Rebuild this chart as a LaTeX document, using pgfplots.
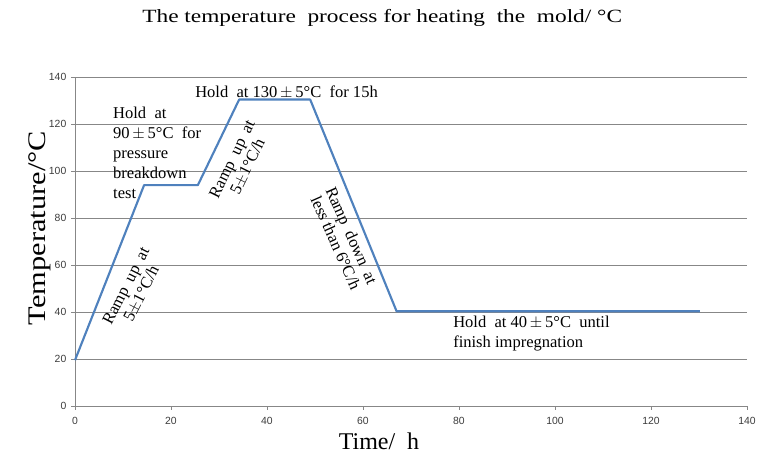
\documentclass[border=0pt]{standalone}
\usepackage{fontspec}
\setmainfont{Liberation Serif}
\newfontfamily\titlefont[FakeStretch=1.25]{Liberation Serif}
\newfontfamily\ylfont[FakeStretch=1.2]{Liberation Serif}
\newfontfamily\tickfont{Liberation Sans}
\usepackage{pgfplots}
\pgfplotsset{compat=1.18}
\definecolor{lineblue}{RGB}{79,129,189}
\definecolor{gridgray}{RGB}{135,135,135}
\definecolor{ticktext}{RGB}{60,60,60}
\begin{document}
\begin{tikzpicture}
\begin{axis}[
  at={(0,0)}, anchor=origin,
  scale only axis,
  width=504pt, height=246.75pt,
  xmin=0, xmax=140, ymin=0, ymax=140,
  xtick distance=20, ytick distance=20,
  axis lines*=left,
  axis line style={gridgray},
  ymajorgrids,
  grid style={gridgray, line width=0.6pt},
  tick style={gridgray},
  major tick length=3pt,
  tick align=outside,
  /pgf/number format/assume math mode=true,
  tick label style={font=\tickfont\fontsize{7.8}{9}\selectfont, text=ticktext},
  xticklabel style={yshift=-2pt},
  clip=false,
  xlabel={Time/\ \ h},
  ylabel={Temperature/\textdegree C},
  xlabel style={at={(axis description cs:0.4524,0)}, anchor=center, yshift=-26.25pt, font=\fontsize{18}{20}\selectfont},
  ylabel style={at={(axis description cs:-0.052,0.541)}, anchor=center, font=\ylfont\fontsize{19}{21}\selectfont},
]
\addplot[lineblue, line width=1.6pt, line join=round] coordinates {
  (0,19.5) (14.4,94) (25.6,94) (34.2,130.4) (49,130.4) (67,40.3) (130.2,40.3)
};
\node[font=\titlefont\fontsize{14}{16}\selectfont] at (axis cs:64,165) {The temperature\ \ process for heating\ \ the\ \ mold/\ \textdegree C};
\node[anchor=west, font=\fontsize{12.4}{15}\selectfont, inner sep=0pt] at (axis cs:25,133.6) {Hold\ \ at 130\,$\pm$\,5\textdegree C\ \ for 15h};
\node[anchor=north west, align=left, font=\fontsize{12.4}{15}\selectfont, inner sep=0pt] at (axis cs:7.9,127.5) {Hold\ \ at\\90\,$\pm$\,5\textdegree C\ \ for\\pressure\\breakdown\\test};
\node[rotate=63, align=center, font=\fontsize{12.4}{13}\selectfont, inner sep=0pt] at (axis cs:12.3,49.4) {Ramp\ \ up\ \ at\\5$\pm$1\textdegree C/h};
\node[rotate=64, align=center, font=\fontsize{12.4}{13}\selectfont, inner sep=0pt] at (axis cs:34.4,103.4) {Ramp\ \ up\ \ at\\5$\pm$1\textdegree C/h};
\node[rotate=-66, align=center, font=\fontsize{12.4}{13}\selectfont, inner sep=0pt] at (axis cs:56,71) {Ramp\ \ down\ \ at\\less than 6\textdegree C/h};
\node[anchor=north west, align=left, font=\fontsize{12.4}{15}\selectfont, inner sep=0pt] at (axis cs:78.75,38.5) {Hold\ \ at 40\,$\pm$\,5\textdegree C\ \ until\\finish impregnation};
\end{axis}
\pgfresetboundingbox
\path[use as bounding box] (-56.25pt,-35.25pt) rectangle (512.25pt,304.5pt);
\end{tikzpicture}
\end{document}
